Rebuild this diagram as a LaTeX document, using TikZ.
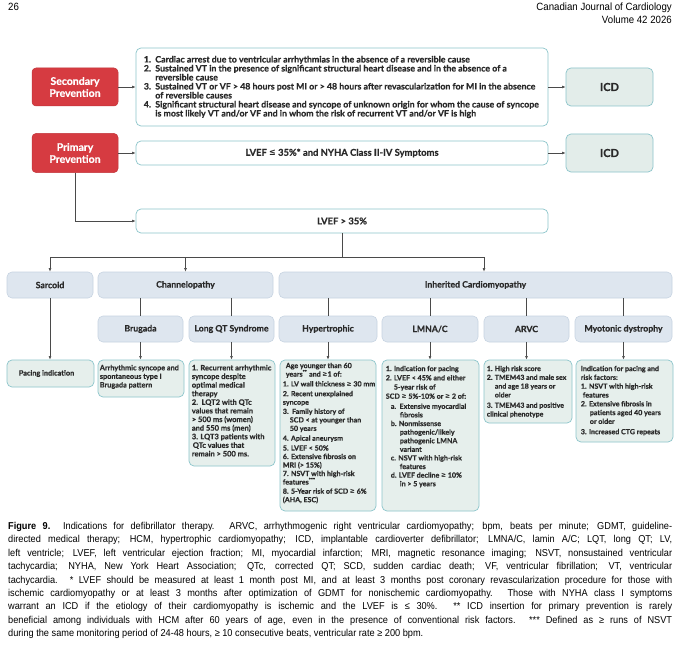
\documentclass[tikz,border=0pt]{standalone}
\usepackage{fontspec}
\setmainfont{Lato}
\newfontfamily\gill{Lato}[BoldFeatures={FakeBold=0.5}]
\newfontfamily\capfont{Liberation Sans}[FakeStretch=0.92]
\newfontfamily\symf{DejaVu Sans}[FakeStretch=0.85]
\usetikzlibrary{arrows.meta}
\definecolor{redp}{HTML}{D63B41}
\definecolor{tealb}{HTML}{8CC5CB}
\definecolor{icdf}{HTML}{E3EDEA}
\definecolor{catf}{HTML}{DEE6EF}
\definecolor{catb}{HTML}{C7D4E2}
\definecolor{infof}{HTML}{E6EFEC}
\definecolor{txt}{HTML}{2A2A2A}
\definecolor{linec}{HTML}{4A4A4A}
\newcommand\myge{{\symf\bfseries ≥}}
\newcommand\myle{{\symf\bfseries ≤}}
\begin{document}
\begin{tikzpicture}[x=1pt,y=-1pt,
  redbox/.style={draw=redp!90!black, fill=redp, rounded corners=4pt, text=white, align=center, inner sep=0pt, line width=0.5pt, font=\gill\bfseries\fontsize{10.5}{12}\selectfont},
  tealbox/.style={draw=tealb, fill=white, rounded corners=5pt, line width=0.7pt, inner sep=0pt, text=txt, font=\gill\bfseries\fontsize{9.4}{11}\selectfont},
  icdbox/.style={draw=tealb, fill=icdf, rounded corners=5pt, line width=0.7pt, inner sep=0pt, text=txt, font=\gill\bfseries\fontsize{11}{13}\selectfont},
  catbox/.style={draw=catb, fill=catf, rounded corners=5pt, line width=0.6pt, inner sep=0pt, text=txt, font=\gill\bfseries\fontsize{8.7}{10}\selectfont},
  infobox/.style={draw=tealb, fill=infof, rounded corners=5pt, line width=0.7pt, inner sep=0pt},
  infotext/.style={anchor=north west, inner sep=0pt, align=left, text=txt, font=\gill\bfseries\fontsize{7.3}{8.6}\selectfont},
  conn/.style={draw=linec, line width=0.6pt},
  arr/.style={conn, -{Latex[length=3.6pt,width=2.8pt]}},
  hdr/.style={inner sep=0pt, text=black, font=\capfont\fontsize{10.5}{12.5}\selectfont}
]
\useasboundingbox (0,0) rectangle (680,650);
\fill[white] (0,0) rectangle (680,650);

% header
\node[hdr, anchor=north west] (pg) at (8,3) {26};
\node[hdr, anchor=north east, align=right] (jr) at (672,3) {Canadian Journal of Cardiology\\Volume 42 2026};

% secondary prevention
\node[redbox, minimum width=86, minimum height=38] (sec) at (75,87) {Secondary\\Prevention};
\node[tealbox, minimum width=412, minimum height=78] (seclist) at (342,87) {};
\node[anchor=west, inner sep=0pt, align=left, text=txt, font=\gill\bfseries\fontsize{8.8}{9}\selectfont] (sectext) at ([xshift=8]seclist.west)
 {1.\ \ Cardiac arrest due to ventricular arrhythmias in the absence of a reversible cause\\
  2.\ \ Sustained VT in the presence of significant structural heart disease and in the absence of a\\
  \phantom{2.\ \ }reversible cause\\
  3.\ \ Sustained VT or VF > 48 hours post MI or > 48 hours after revascularization for MI in the absence\\
  \phantom{3.\ \ }of reversible causes\\
  4.\ \ Significant structural heart disease and syncope of unknown origin for whom the cause of syncope\\
  \phantom{4.\ \ }is most likely VT and/or VF and in whom the risk of recurrent VT and/or VF is high};
\node[icdbox, minimum width=87, minimum height=38] (icd1) at (609.5,87) {ICD};
\draw[arr] (sec.east) -- (seclist.west);
\draw[arr] (seclist.east) -- (icd1.west);

% primary prevention
\node[redbox, minimum width=86, minimum height=39] (prim) at (75,153) {Primary\\Prevention};
\node[tealbox, minimum width=412, minimum height=24] (lvefa) at (342,153) {LVEF \myle\ 35\%* and NYHA Class II-IV Symptoms};
\node[icdbox, minimum width=87, minimum height=38] (icd2) at (609.5,153) {ICD};
\draw[arr] (prim.east) -- (lvefa.west);
\draw[arr] (lvefa.east) -- (icd2.west);

\node[tealbox, minimum width=412, minimum height=24] (lvefb) at (342,221) {LVEF > 35\%};
\draw[arr] (prim.south) |- (lvefb.west);

% row 1
\node[catbox, minimum width=86, minimum height=26] (sarc) at (50,285) {Sarcoid};
\node[catbox, minimum width=175, minimum height=26] (chan) at (185.5,285) {Channelopathy};
\node[catbox, minimum width=393, minimum height=26] (inh) at (475.5,285) {Inherited Cardiomyopathy};

\coordinate (split) at (342,257);
\coordinate (hr) at (484,257);
\draw[conn] (lvefb.south) -- (split);
\draw[conn] (sarc.north |- split) -- (hr);
\draw[arr] (sarc.north |- split) -- (sarc.north);
\draw[arr] (chan.north |- split) -- (chan.north);
\draw[arr] (hr) -- (inh.north -| hr);

% row 2
\node[catbox, minimum width=85, minimum height=26] (brug) at (140.5,329) {Brugada};
\node[catbox, minimum width=85, minimum height=26] (lqt) at (231.5,329) {Long QT Syndrome};
\node[catbox, minimum width=98, minimum height=26] (hyp) at (328,329) {Hypertrophic};
\node[catbox, minimum width=96, minimum height=26] (lmna) at (430,329) {LMNA/C};
\node[catbox, minimum width=85, minimum height=26] (arvc) at (526.5,329) {ARVC};
\node[catbox, minimum width=97, minimum height=26] (myo) at (623.5,329) {Myotonic dystrophy};

\draw[conn] (brug.north |- chan.south) -- (brug.north);
\draw[conn] (lqt.north |- chan.south) -- (lqt.north);
\draw[conn] (hyp.north |- inh.south) -- (hyp.north);
\draw[conn] (lmna.north |- inh.south) -- (lmna.north);
\draw[conn] (arvc.north |- inh.south) -- (arvc.north);
\draw[conn] (myo.north |- inh.south) -- (myo.north);

% row 3 boxes
\node[infobox, minimum width=87, minimum height=27] (pacb) at (50.5,373.5) {};
\node[infobox, minimum width=86, minimum height=37] (brugb) at (141,378.5) {};
\node[infobox, minimum width=86, minimum height=106] (lqtb) at (232,413) {};
\node[infobox, minimum width=96, minimum height=151] (hypb) at (328,435.5) {};
\node[infobox, minimum width=97, minimum height=151] (lmnab) at (430.5,435.5) {};
\node[infobox, minimum width=88, minimum height=63] (arvcb) at (528,391.5) {};
\node[infobox, minimum width=97, minimum height=82] (myob) at (624.5,401) {};

\draw[arr] (sarc.south) -- (sarc.south |- pacb.north);
\draw[arr] (brug.south) -- (brug.south |- brugb.north);
\draw[arr] (lqt.south) -- (lqt.south |- lqtb.north);
\draw[arr] (hyp.south) -- (hyp.south |- hypb.north);
\draw[arr] (lmna.south) -- (lmna.south |- lmnab.north);
\draw[arr] (arvc.south) -- (arvc.south |- arvcb.north);
\draw[arr] (myo.south) -- (myo.south |- myob.north);

% row 3 texts
\node[infotext, anchor=west] (pact) at ([xshift=12]pacb.west) {Pacing indication};
\node[infotext] (brugt) at ([xshift=2,yshift=-5]brugb.north west) {Arrhythmic syncope and\\spontaneous type I\\Brugada pattern};
\node[infotext, font=\gill\bfseries\fontsize{7.5}{8.6}\selectfont] (lqtt) at ([xshift=3,yshift=-5]lqtb.north west)
 {1. Recurrent arrhythmic\\
  syncope despite\\
  optimal medical\\
  therapy\\
  2.\ \ LQT2 with QTc\\
  values that remain\\
  > 500 ms (women)\\
  and 550 ms (men)\\
  3. LQT3 patients with\\
  \hspace*{1pt}QTc values that\\
  remain > 500 ms.};
\node[infotext, font=\gill\bfseries\fontsize{7.1}{8.5}\selectfont] (hypt) at ([xshift=3,yshift=-3]hypb.north west)
 {\hspace*{3pt}Age younger than 60\\
  \hspace*{3pt}years\textsuperscript{**} and \myge1 of:\\[1.3pt]
  1. LV wall thickness \myge\ 30 mm\\[1.3pt]
  2. Recent unexplained\\
  syncope\\[0.7pt]
  3.\ \ Family history of\\
  \hspace*{7pt}SCD < at younger than\\
  \hspace*{7pt}50 years\\[1.3pt]
  4. Apical aneurysm\\[1.3pt]
  5. LVEF < 50\%\\
  6. Extensive fibrosis on\\
  MRI (> 15\%)\\
  7. NSVT with high-risk\\
  features\textsuperscript{***}\\[0.7pt]
  8. 5-Year risk of SCD \myge\ 6\%\\
  (AHA, ESC)};
\node[infotext, font=\gill\bfseries\fontsize{7.1}{8.6}\selectfont] (lmnat) at ([xshift=4,yshift=-6]lmnab.north west)
 {1. Indication for pacing\\[0.6pt]
  2. LVEF < 45\% and either\\[0.6pt]
  \hspace*{8pt}5-year risk of\\[0.6pt]
  SCD \myge\ 5\%-10\% or \myge\ 2 of:\\[1.5pt]
  \hspace*{5pt}a.\ \ Extensive myocardial\\
  \hspace*{14pt}fibrosis\\
  \hspace*{5pt}b. Nonmissense\\
  \hspace*{14pt}pathogenic/likely\\
  \hspace*{14pt}pathogenic LMNA\\
  \hspace*{14pt}variant\\
  \hspace*{5pt}c. NSVT with high-risk\\
  \hspace*{14pt}features\\
  \hspace*{5pt}d. LVEF decline \myge\ 10\%\\
  \hspace*{14pt}in > 5 years};
\node[infotext, font=\gill\bfseries\fontsize{7.0}{8.8}\selectfont] (arvct) at ([xshift=3,yshift=-6]arvcb.north west)
 {1. High risk score\\
  2. TMEM43 and male sex\\
  \hspace*{8pt}and age 18 years or\\
  \hspace*{8pt}older\\[1.5pt]
  3. TMEM43 and positive\\
  clinical phenotype};
\node[infotext, font=\gill\bfseries\fontsize{7.1}{8.8}\selectfont] (myot) at ([xshift=5,yshift=-6]myob.north west)
 {Indication for pacing and\\
  risk factors:\\
  1. NSVT with high-risk\\
  \hspace*{2pt}features\\
  2. Extensive fibrosis in\\
  \hspace*{9pt}patients aged 40 years\\
  \hspace*{9pt}or older\\[1.5pt]
  3. Increased CTG repeats};

% caption
\node[anchor=north west, inner sep=0pt, text width=664pt, align=justify, text=black, font=\capfont\fontsize{10}{13.4}\selectfont] (cap) at (8,522)
 {\textbf{Figure 9.}\ \ Indications for defibrillator therapy. ARVC, arrhythmogenic right ventricular cardiomyopathy; bpm, beats per minute; GDMT, guideline-\linebreak
 directed medical therapy; HCM, hypertrophic cardiomyopathy; ICD, implantable cardioverter defibrillator; LMNA/C, lamin A/C; LQT, long QT; LV,\linebreak
 left ventricle; LVEF, left ventricular ejection fraction; MI, myocardial infarction; MRI, magnetic resonance imaging; NSVT, nonsustained ventricular\linebreak
 tachycardia; NYHA, New York Heart Association; QTc, corrected QT; SCD, sudden cardiac death; VF, ventricular fibrillation; VT, ventricular\linebreak
 tachycardia. * LVEF should be measured at least 1 month post MI, and at least 3 months post coronary revascularization procedure for those with\linebreak
 ischemic cardiomyopathy or at least 3 months after optimization of GDMT for nonischemic cardiomyopathy. Those with NYHA class I symptoms\linebreak
 warrant an ICD if the etiology of their cardiomyopathy is ischemic and the LVEF is ≤ 30\%. ** ICD insertion for primary prevention is rarely\linebreak
 beneficial among individuals with HCM after 60 years of age, even in the presence of conventional risk factors. *** Defined as ≥ runs of NSVT\linebreak
 during the same monitoring period of 24-48 hours, ≥ 10 consecutive beats, ventricular rate ≥ 200 bpm.};
\end{tikzpicture}
\end{document}
